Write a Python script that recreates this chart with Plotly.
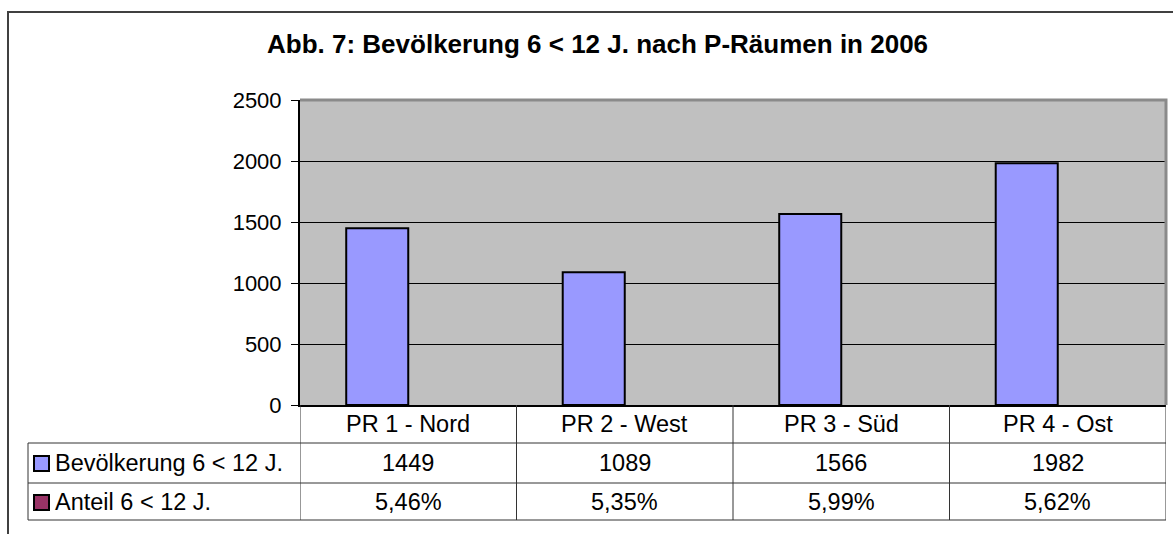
import plotly.graph_objects as go

categories = ["PR 1 - Nord", "PR 2 - West", "PR 3 - Süd", "PR 4 - Ost"]
bevoelkerung = [1449, 1089, 1566, 1982]
anteil = [0.0546, 0.0535, 0.0599, 0.0562]
series_names = ["Bevölkerung 6 < 12 J.", "Anteil 6 < 12 J."]
series_colors = ["#9999FF", "#993366"]
title_text = "Abb. 7: Bevölkerung 6 < 12 J. nach P-Räumen in 2006"
y_ticks = [0, 500, 1000, 1500, 2000, 2500]

W, H = 1173, 534
L, R, T, B = 300, 7, 100, 129
PW, PH = W - L - R, H - T - B
FONT = "Liberation Sans, Arial, sans-serif"
FS_TICK = 22
FS_TAB = 23.5
FS_TITLE = 26


def px(x):
    return (x - L) / PW


def py(y):
    return (H - B - y) / PH


anteil_labels = [f"{v * 100:.2f}%".replace(".", ",") for v in anteil]

fig = go.Figure()
fig.add_trace(go.Bar(
    x=categories, y=bevoelkerung, name=series_names[0],
    marker=dict(color=series_colors[0], line=dict(color="black", width=2)),
    showlegend=False,
))
# second series (share values, ~0 on this scale) keeps its slot next to the first
fig.add_trace(go.Bar(
    x=categories, y=anteil, name=series_names[1],
    marker=dict(color=series_colors[1], line=dict(color="black", width=0), opacity=0),
    showlegend=False,
))

shapes = []
annotations = []
line_col = "#333333"

# outer chart border
shapes.append(dict(type="rect", xref="paper", yref="paper",
                   x0=px(8), x1=px(1190), y0=py(550), y1=py(12),
                   line=dict(color="#404040", width=2), layer="below"))
# plot area top/right border
shapes.append(dict(type="path", xref="paper", yref="paper",
                   path=f"M {px(300)} {py(100)} L {px(1166)} {py(100)} L {px(1166)} {py(405)}",
                   line=dict(color="#8a8a8a", width=3)))

# table horizontal lines
for yy in [443, 483, 520]:
    shapes.append(dict(type="line", xref="paper", yref="paper",
                       x0=px(28), x1=px(1166), y0=py(yy), y1=py(yy),
                       line=dict(color=line_col, width=1)))
# table vertical lines
shapes.append(dict(type="line", xref="paper", yref="paper",
                   x0=px(28), x1=px(28), y0=py(443), y1=py(520),
                   line=dict(color=line_col, width=1)))
for i in range(len(categories) + 1):
    shapes.append(dict(type="line", xref="x", yref="paper",
                       x0=i - 0.5, x1=i - 0.5, y0=py(405), y1=py(520),
                       line=dict(color=line_col, width=1)))


def txt(x, y, text, xref="x", xanchor="center", size=FS_TAB):
    return dict(x=x, y=y, xref=xref, yref="paper", text=text, showarrow=False,
                xanchor=xanchor, yanchor="middle",
                font=dict(size=size, color="black", family=FONT))


# table texts
row_centers = [424, 463, 502]
for i, c in enumerate(categories):
    annotations.append(txt(c, py(row_centers[0]), c))
    annotations.append(txt(c, py(row_centers[1]), str(bevoelkerung[i])))
    annotations.append(txt(c, py(row_centers[2]), anteil_labels[i]))

# legend keys + series names
for k, name in enumerate(series_names):
    yc = row_centers[k + 1]
    shapes.append(dict(type="rect", xref="paper", yref="paper",
                       x0=px(34), x1=px(49), y0=py(yc + 8), y1=py(yc - 7),
                       fillcolor=series_colors[k], line=dict(color="black", width=2)))
    annotations.append(txt(px(53), py(yc), name, xref="paper", xanchor="left"))

# title
annotations.append(txt(px(597), py(44), f"<b>{title_text}</b>", xref="paper",
                       size=FS_TITLE))

fig.update_layout(
    width=W, height=H,
    margin=dict(l=L, r=R, t=T, b=B, pad=0),
    paper_bgcolor="white", plot_bgcolor="#C0C0C0",
    font=dict(family=FONT, size=FS_TICK, color="black"),
    barmode="group", bargap=0.427, bargroupgap=0,
    shapes=shapes, annotations=annotations,
    xaxis=dict(type="category", range=[-0.5, 3.5], showticklabels=False,
               showgrid=False, showline=True, linecolor="black", linewidth=2,
               ticks="", zeroline=False, fixedrange=True, layer="above traces"),
    yaxis=dict(range=[0, 2500], tickvals=y_ticks, showgrid=True,
               gridcolor="black", gridwidth=1, showline=True, linecolor="black",
               linewidth=2, ticks="outside", ticklen=7, tickcolor="black",
               ticklabelstandoff=5, layer="above traces",
               tickfont=dict(size=FS_TICK, family=FONT), zeroline=False, fixedrange=True),
)

fig.write_html("out.html", config={"displayModeBar": False},
               post_script="document.body.style.margin='0';document.body.style.overflow='hidden';")
